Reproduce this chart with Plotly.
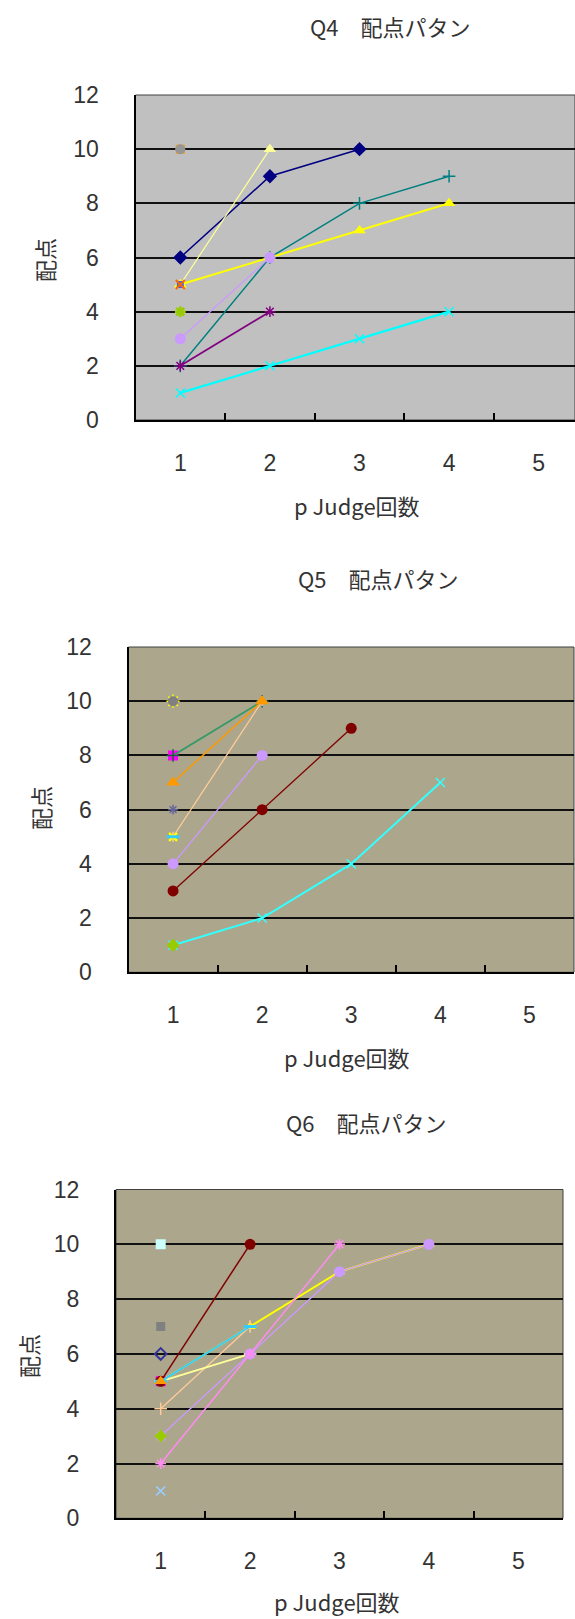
import plotly.graph_objects as go

W, H = 575, 1619

# category axis (number of pJudge submissions) and score axis
categories = [1, 2, 3, 4, 5]
tick_labels = ["1", "2", "3", "4", "5"]
score_ticks = [0, 2, 4, 6, 8, 10, 12]

# ---- Q4 score patterns (values at submission 1, 2, 3, ...) ----
q4_navy = [6, 9, 10]
q4_paleyellow = [5, 10]
q4_teal = [2, 6, 8, 9]
q4_yellow = [5, 6, 7, 8]
q4_lavender = [3, 6]
q4_purple = [2, 4]
q4_cyan = [1, 2, 3, 4]
q4_orange_single = [10]
q4_gray_single = [10]
q4_blue_single = [5]
q4_redx_single = [5]
q4_lime_single = [4]

# ---- Q5 score patterns ----
q5_magenta_single = [8]
q5_green = [8, 10]
q5_orange = [7, 10]
q5_tan = [5, 10]
q5_lavender = [4, 8]
q5_maroon = [3, 6, 9]
q5_cyan = [1, 2, 4, 7]
q5_yellow_single = [10]
q5_gray_single = [10]
q5_slate_single = [6]
q5_yellowx_single = [5]
q5_sky_single = [5]
q5_lime_single = [1]

# ---- Q6 score patterns ----
q6_maroon = [5, 10]
q6_yellow = [5, 7, 9, 10]
q6_sky = [5, 7]
q6_paleyellow = [5, 6]
q6_tan = [4, 7]
q6_lavender = [3, 6, 9, 10]
q6_pink = [2, 6, 10]
q6_turquoise_single = [10]
q6_gray_single = [7]
q6_navy_single = [6]
q6_magenta_single = [5]
q6_orange_single = [5]
q6_lime_single = [3]
q6_paleblue_single = [1]

# panel geometry in pixels: (left, right, y0 pixel, y12 pixel)
panels = [
    dict(left=135.5, right=583.5, bottom=420.0, top=95.0, bg="#C0C0C0"),
    dict(left=128.5, right=574.0, bottom=972.3, top=647.0, bg="#ABA68C"),
    dict(left=116.0, right=563.0, bottom=1518.3, top=1189.5, bg="#ABA68C"),
]

fig = go.Figure()

OPEN_SYMBOLS = ("cross-thin", "x-thin", "asterisk", "line-ew")


def add(panel, ys, color, symbol, size, lw=1.5, mcolor=None, mlw=1.5):
    mcolor = mcolor or color
    n = len(ys)
    marker = dict(symbol=symbol, size=size, color=mcolor,
                  line=dict(width=0, color=mcolor))
    if symbol.startswith(OPEN_SYMBOLS) or symbol.endswith("-open"):
        marker["line"] = dict(width=mlw, color=mcolor)
    fig.add_trace(go.Scatter(
        x=categories[:n], y=ys, mode="lines+markers" if n > 1 else "markers",
        line=dict(color=color, width=lw), marker=marker,
        xaxis="x" if panel == 1 else f"x{panel}",
        yaxis="y" if panel == 1 else f"y{panel}",
        showlegend=False, hoverinfo="x+y"))


# Q4
add(1, q4_orange_single, "#FF9900", "square", 9)
add(1, q4_gray_single, "#969696", "circle", 10)
add(1, q4_navy, "#000080", "diamond", 11, lw=1.5)
add(1, q4_paleyellow, "#FFFF99", "triangle-up", 11, lw=1.2)
add(1, q4_teal, "#008080", "cross-thin", 9, lw=1.5)
add(1, q4_yellow, "#FFFF00", "triangle-up", 11, lw=2)
add(1, q4_lavender, "#CC99FF", "circle", 11, lw=1.2)
add(1, q4_purple, "#800080", "asterisk", 9, lw=1.8)
add(1, q4_cyan, "#00FFFF", "x-thin", 9, lw=2.2)
add(1, q4_blue_single, "#3366FF", "square", 7)
add(1, q4_redx_single, "#FF6600", "x-thin", 9, mlw=2)
add(1, q4_lime_single, "#99CC00", "asterisk", 9, mlw=2.5)

# Q5
add(2, q5_yellow_single, "#FFFF00", "asterisk", 11, mlw=1.5)
add(2, q5_gray_single, "#808080", "circle", 10)
add(2, q5_magenta_single, "#FF00FF", "square", 10)
add(2, q5_green, "#339966", "cross-thin", 9, lw=1.8, mcolor="#1F5F3F")
add(2, q5_tan, "#FFCC99", "cross-thin", 7, lw=1.3)
add(2, q5_orange, "#FF9900", "triangle-up", 12, lw=1.5)
add(2, q5_lavender, "#CC99FF", "circle", 11, lw=1.3)
add(2, q5_maroon, "#800000", "circle", 11, lw=1.3)
add(2, q5_cyan, "#33FFFF", "x-thin", 9, lw=2)
add(2, q5_slate_single, "#666699", "asterisk", 8)
add(2, q5_yellowx_single, "#FFFF00", "x-thin", 8, mlw=2.5)
add(2, q5_sky_single, "#33CCFF", "line-ew", 9, mlw=3)
add(2, q5_lime_single, "#99CC00", "diamond", 10)

# Q6
add(3, q6_turquoise_single, "#CCFFFF", "square", 10)
add(3, q6_gray_single, "#808080", "square", 9)
add(3, q6_navy_single, "#333399", "diamond-open", 9, mlw=2)
add(3, q6_magenta_single, "#FF00FF", "square", 10)
add(3, q6_maroon, "#800000", "circle", 11, lw=1.5)
add(3, q6_yellow, "#FFFF00", "triangle-up", 10, lw=2)
add(3, q6_tan, "#FFCC99", "cross-thin", 9, lw=1.3)
add(3, q6_paleyellow, "#FFFF99", "line-ew", 9, lw=1.8, mlw=2)
add(3, q6_sky, "#33CCFF", "line-ew", 9, lw=2, mlw=3)
add(3, q6_lavender, "#CC99FF", "circle", 11, lw=1.3)
add(3, q6_pink, "#FF8CF0", "asterisk", 9, lw=1.5)
add(3, q6_orange_single, "#FF9900", "triangle-up", 11)
add(3, q6_lime_single, "#99CC00", "diamond", 10)
add(3, q6_paleblue_single, "#99CCFF", "x-thin", 9, mlw=1.5)

tick_font = dict(family="Liberation Sans, Noto Sans CJK JP", size=23, color="#333333")
text_font = dict(family="Noto Sans CJK JP", size=22, color="#333333")

layout = dict(
    width=W, height=H, margin=dict(l=0, r=0, t=0, b=0, autoexpand=False),
    paper_bgcolor="white", plot_bgcolor="white",
    showlegend=False, shapes=[], annotations=[],
)

for i, p in enumerate(panels, start=1):
    sx = "" if i == 1 else str(i)
    right_vis = min(p["right"], W)
    span = (p["right"] - p["left"]) / 5.0
    x_hi = 0.5 + (right_vis - p["left"]) / span
    layout[f"xaxis{sx}"] = dict(
        domain=[p["left"] / W, right_vis / W],
        range=[0.5, x_hi], anchor=f"y{sx}", automargin=False,
        tickmode="array", tickvals=categories, ticktext=tick_labels,
        ticks="", showgrid=False, zeroline=False,
        showline=True, linecolor="black", linewidth=2,
        tickfont=tick_font, ticklabelstandoff=21,
        minor=dict(tickvals=[1.5, 2.5, 3.5, 4.5], ticks="inside",
                   ticklen=7, tickwidth=2, tickcolor="black", showgrid=False),
        fixedrange=True,
    )
    layout[f"yaxis{sx}"] = dict(
        domain=[1 - p["bottom"] / H, 1 - p["top"] / H],
        range=[0, 12], anchor=f"x{sx}", automargin=False,
        tickmode="array", tickvals=score_ticks,
        ticks="", showgrid=True, gridcolor="#111111", gridwidth=2,
        zeroline=False, showline=True, linecolor="black", linewidth=2,
        tickfont=tick_font, ticklabelstandoff=30, fixedrange=True,
    )
    # plot-area fill and thin frame
    layout["shapes"].append(dict(
        type="rect", xref=f"x{sx} domain", yref=f"y{sx} domain",
        x0=0, x1=1, y0=0, y1=1, fillcolor=p["bg"],
        line=dict(color="#404040", width=1), layer="below"))

titles = ["Q4\u3000配点パタン", "Q5\u3000配点パタン", "Q6\u3000配点パタン"]
title_pos = [(390, 26), (378, 578), (366, 1122)]
xtitle_pos = [(357, 505), (347, 1057), (337, 1601)]
ytitle_pos = [(44, 260), (40, 808), (28, 1356)]

for t, (tx, ty) in zip(titles, title_pos):
    layout["annotations"].append(dict(
        text=t, x=tx / W, y=1 - ty / H, xref="paper", yref="paper",
        showarrow=False, font=text_font, xanchor="center", yanchor="middle"))
for tx, ty in xtitle_pos:
    layout["annotations"].append(dict(
        text="p Judge回数", x=tx / W, y=1 - ty / H, xref="paper", yref="paper",
        showarrow=False, font=text_font, xanchor="center", yanchor="middle"))
for tx, ty in ytitle_pos:
    layout["annotations"].append(dict(
        text="配点", x=tx / W, y=1 - ty / H, xref="paper", yref="paper",
        showarrow=False, font=text_font, textangle=-90,
        xanchor="center", yanchor="middle"))

fig.update_layout(**layout)
fig.write_html("out.html")
